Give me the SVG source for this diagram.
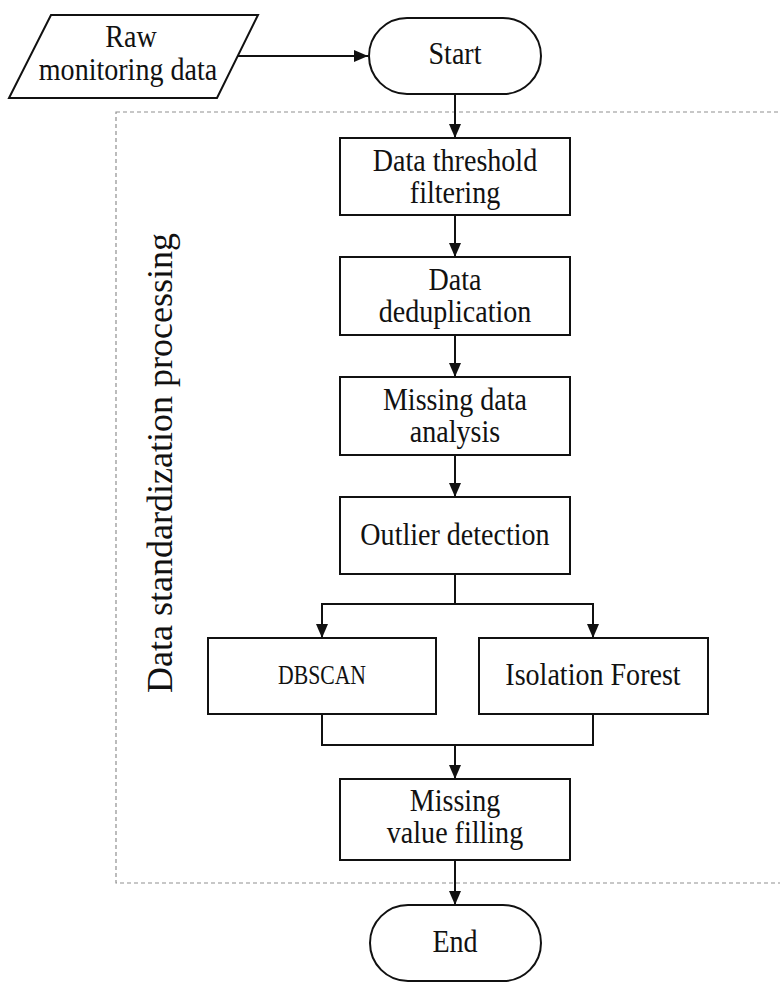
<svg xmlns="http://www.w3.org/2000/svg" width="780" height="984" viewBox="0 0 780 984">
<style>
.shape{fill:#fff;stroke:#111;stroke-width:2}
.lbl{font-family:"Liberation Serif","Times New Roman",serif;font-size:30.5px;fill:#111;text-anchor:middle;transform-box:fill-box;transform-origin:50% 50%;transform:scaleX(0.92)}
.side{font-family:"Liberation Serif","Times New Roman",serif;font-size:36px;fill:#111;text-anchor:middle}
.conn{fill:none;stroke:#111;stroke-width:2}
.group{fill:none;stroke:#8f8f8f;stroke-width:1.2;stroke-dasharray:4 3}
</style>
<defs>
<marker id="arr" markerUnits="userSpaceOnUse" markerWidth="14" markerHeight="12" refX="14" refY="6" orient="auto">
<path d="M0,0 L14,6 L0,12 Z" fill="#111"/>
</marker>
</defs>
<rect width="780" height="984" fill="#fff"/>
<g id="group-standardization">
<rect class="group" x="116" y="112" width="700" height="771"/>
<text class="side" transform="translate(172,463) rotate(-90)">Data standardization processing</text>
</g>
<g id="connectors">
<line class="conn" x1="238" y1="56" x2="368" y2="56" marker-end="url(#arr)"/>
<line class="conn" x1="455" y1="94" x2="455" y2="138" marker-end="url(#arr)"/>
<line class="conn" x1="455" y1="215" x2="455" y2="257" marker-end="url(#arr)"/>
<line class="conn" x1="455" y1="335" x2="455" y2="377" marker-end="url(#arr)"/>
<line class="conn" x1="455" y1="455" x2="455" y2="497" marker-end="url(#arr)"/>
<polyline class="conn" points="455,574 455,604"/>
<polyline class="conn" points="322,604 593,604"/>
<line class="conn" x1="322" y1="603" x2="322" y2="638" marker-end="url(#arr)"/>
<line class="conn" x1="593" y1="603" x2="593" y2="638" marker-end="url(#arr)"/>
<polyline class="conn" points="322,714 322,745 593,745 593,714"/>
<line class="conn" x1="455" y1="745" x2="455" y2="779" marker-end="url(#arr)"/>
<line class="conn" x1="455" y1="860" x2="455" y2="905" marker-end="url(#arr)"/>
</g>
<g id="raw-data">
<polygon class="shape" points="51,15 258,15 217,98 9,98"/>
<text class="lbl" x="131" y="47">Raw</text>
<text class="lbl" x="128" y="80">monitoring data</text>
</g>
<g id="start">
<rect class="shape" x="369" y="18" width="172" height="76" rx="38" ry="38"/>
<text class="lbl" x="455" y="64">Start</text>
</g>
<g id="threshold-filtering">
<rect class="shape" x="340" y="138" width="230" height="77"/>
<text class="lbl" x="455" y="171">Data threshold</text>
<text class="lbl" x="455" y="203">filtering</text>
</g>
<g id="deduplication">
<rect class="shape" x="340" y="257" width="230" height="78"/>
<text class="lbl" x="455" y="290">Data</text>
<text class="lbl" x="455" y="322">deduplication</text>
</g>
<g id="missing-analysis">
<rect class="shape" x="340" y="377" width="230" height="78"/>
<text class="lbl" x="455" y="410">Missing data</text>
<text class="lbl" x="455" y="442">analysis</text>
</g>
<g id="outlier-detection">
<rect class="shape" x="340" y="497" width="230" height="77"/>
<text class="lbl" x="455" y="545">Outlier detection</text>
</g>
<g id="dbscan">
<rect class="shape" x="208" y="638" width="228" height="76"/>
<text class="lbl" x="322" y="684" style="font-size:27px;transform:none" textLength="88" lengthAdjust="spacingAndGlyphs">DBSCAN</text>
</g>
<g id="isolation-forest">
<rect class="shape" x="479" y="638" width="229" height="76"/>
<text class="lbl" x="593" y="685">Isolation Forest</text>
</g>
<g id="missing-filling">
<rect class="shape" x="340" y="779" width="230" height="81"/>
<text class="lbl" x="455" y="811">Missing</text>
<text class="lbl" x="455" y="843">value filling</text>
</g>
<g id="end">
<rect class="shape" x="370" y="905" width="171" height="76" rx="38" ry="38"/>
<text class="lbl" x="455" y="952">End</text>
</g>
</svg>
